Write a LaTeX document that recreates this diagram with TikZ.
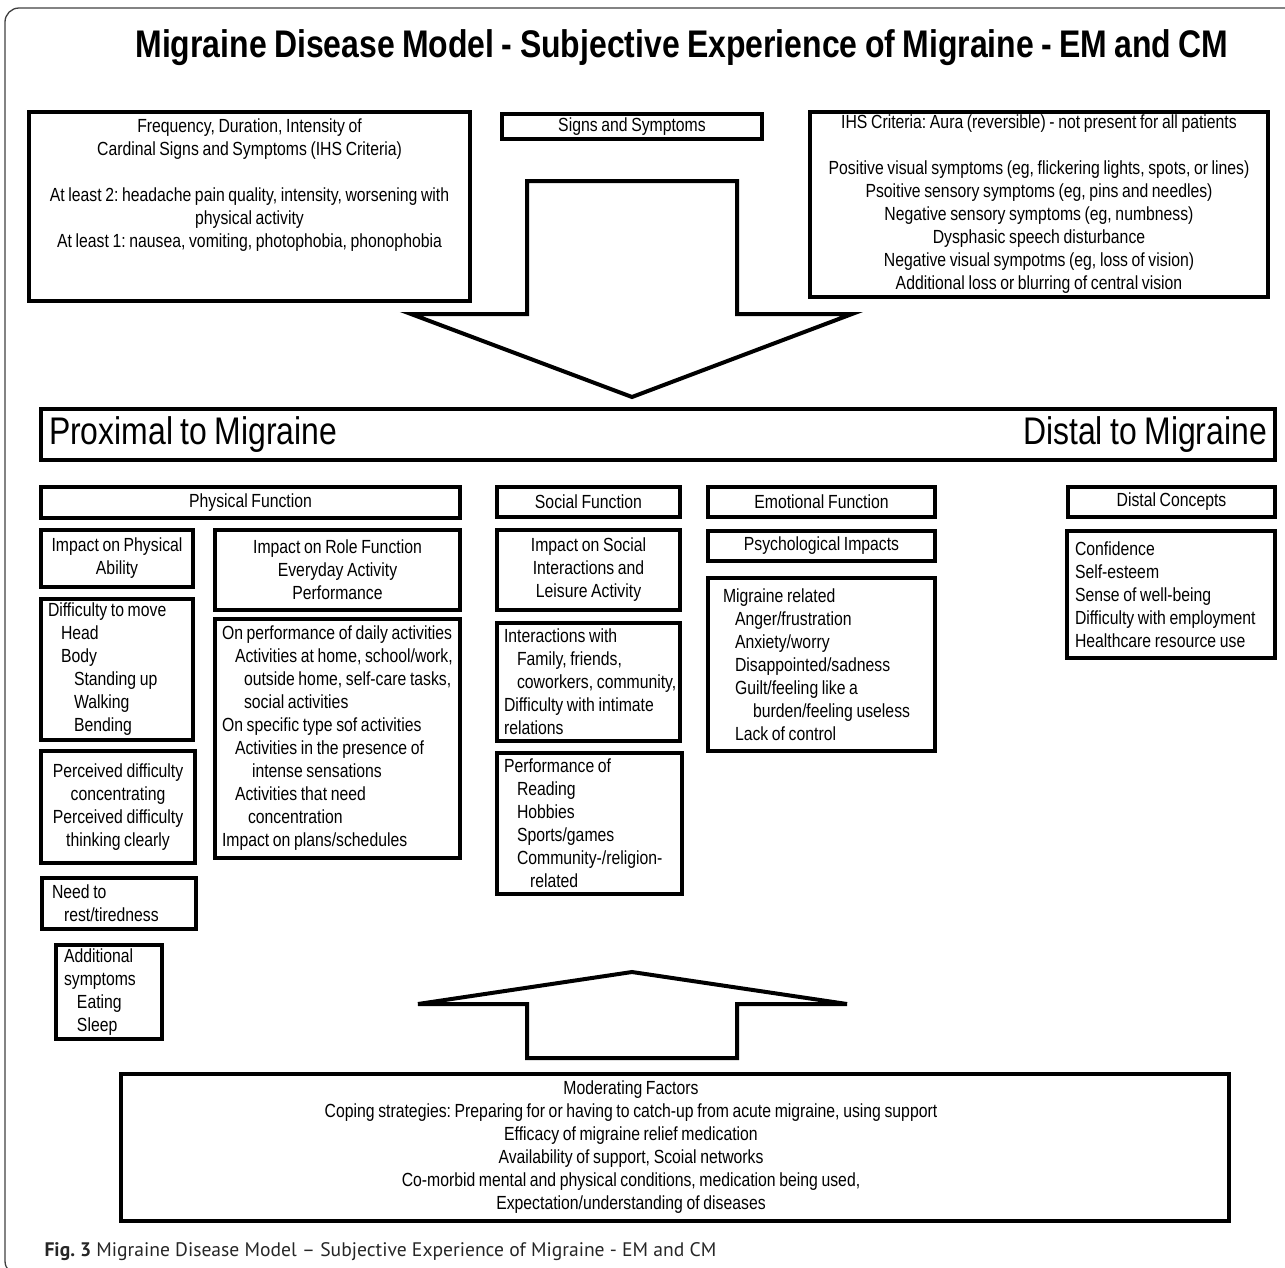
\documentclass[tikz,border=0pt]{standalone}
\usepackage{fontspec}
\setmainfont{Liberation Sans}[FakeStretch=0.83, WordSpace=0.83]
\newfontfamily\capfont{PT Sans}
\newcommand{\inA}{\hspace*{13pt}}
\newcommand{\inB}{\hspace*{26pt}}
\frenchspacing
\tikzset{
  box/.style 2 args={draw, line width=4.8pt, anchor=north west, inner xsep=5pt, inner ysep=0pt,
    outer sep=0pt, minimum width=#1, minimum height=#2, align=center,
    font=\fontsize{19}{23}\selectfont},
  lbox/.style 2 args={box={#1}{#2}, inner xsep=7pt, align=flush left, text width=#1-14},
  bigarrow/.style={draw, line width=4pt, line join=miter},
}
\begin{document}
\begin{tikzpicture}[x=1pt,y=-1pt]
\useasboundingbox (0,0) rectangle (1285,1267);
\draw[line width=1.3pt, black!75, rounded corners=14pt] (5,8) rectangle (1320,1275);

% title
\node[anchor=base, font=\fontsize{38.5}{42}\selectfont\bfseries] (title) at (682,57)
  {Migraine Disease Model - Subjective Experience of Migraine - EM and CM};

% signs and symptoms
\node[box={441}{189}] (freq) at (29,112) {Frequency, Duration, Intensity of\\
  Cardinal Signs and Symptoms (IHS Criteria)\\[23pt]
  At least 2: headache pain quality, intensity, worsening with\\
  physical activity\\
  At least 1: nausea, vomiting, photophobia, phonophobia\\ \mbox{}\\ \mbox{}};
\node[box={260}{25}] (signs) at (502,114) {Signs and Symptoms};
\node[box={458}{185}] (ihs) at (810,112) {IHS Criteria: Aura (reversible) - not present for all patients\\[23pt]
  Positive visual symptoms (eg, flickering lights, spots, or lines)\\
  Psoitive sensory symptoms (eg, pins and needles)\\
  Negative sensory symptoms (eg, numbness)\\
  Dysphasic speech disturbance\\
  Negative visual sympotms (eg, loss of vision)\\
  Additional loss or blurring of central vision};

% arrow down
\draw[bigarrow] (527,181) -- (737,181) -- (737,314) -- (852,314) -- (632,397)
  -- (411,314) -- (527,314) -- cycle;

\node[box={1234}{51}, align=flush left, text width=1218, inner xsep=8pt, font=\fontsize{38.5}{42}\selectfont]
  (prox) at (41,409) {Proximal to Migraine\hfill Distal to Migraine};

% physical function
\node[box={419}{31}] (physfn) at (41,487) {Physical Function};
\node[box={152}{57}] (physab) at (41,530) {Impact on Physical\\Ability};
\node[lbox={152}{141}] (move) at (41,599) {Difficulty to move\\ \inA Head\\ \inA Body\\
  \inB Standing up\\ \inB Walking\\ \inB Bending};
\node[box={154}{112}] (percv) at (41,751) {Perceived difficulty\\concentrating\\
  Perceived difficulty\\thinking clearly};
\node[lbox={154}{51}] (rest) at (42,878) {\hspace*{3pt}Need to\\ \hspace*{15pt}rest/tiredness};
\node[lbox={106}{94}] (addsym) at (56,945) {\hspace*{1pt}Additional\\ \hspace*{1pt}symptoms\\
  \hspace*{14pt}Eating\\ \hspace*{14pt}Sleep};
\node[box={245}{80}] (rolefn) at (215,530) {Impact on Role Function\\Everyday Activity\\Performance};
\node[lbox={245}{239}, inner xsep=5pt] (daily) at (215,619) {\mbox{On performance of daily activities}\\
  \inA \mbox{Activities at home, school/work,}\\
  \hspace*{22pt}\mbox{outside home, self-care tasks,}\\
  \hspace*{22pt}social activities\\
  On specific type sof activities\\
  \inA Activities in the presence of\\
  \hspace*{30pt}intense sensations\\
  \inA Activities that need\\
  \hspace*{26pt}concentration\\
  Impact on plans/schedules};

% social function
\node[box={183}{30}] (socfn) at (497,487) {Social Function};
\node[box={183}{80}] (socimp) at (497,530) {Impact on Social\\Interactions and\\Leisure Activity};
\node[lbox={183}{118}] (inter) at (497,623) {Interactions with\\ \inA Family, friends,\\
  \inA \mbox{coworkers, community,}\\ Difficulty with intimate\\ relations};
\node[lbox={185}{141}] (perf) at (497,753) {Performance of\\ \inA Reading\\ \inA Hobbies\\
  \inA Sports/games\\ \inA Community-/religion-\\ \inB related};

% emotional function
\node[box={227}{30}] (emofn) at (708,487) {Emotional Function};
\node[box={227}{30}] (psych) at (708,531) {Psychological Impacts};
\node[lbox={227}{173}] (migrel) at (708,578) {\hspace*{8pt}Migraine related\\
  \hspace*{20pt}Anger/frustration\\ \hspace*{20pt}Anxiety/worry\\
  \hspace*{20pt}Disappointed/sadness\\ \hspace*{20pt}Guilt/feeling like a\\
  \hspace*{38pt}burden/feeling useless\\ \hspace*{20pt}Lack of control};

% distal concepts
\node[box={207}{30}] (distfn) at (1068,487) {Distal Concepts};
\node[lbox={208}{127}] (distal) at (1067,531) {\hspace*{1pt}Confidence\\ \hspace*{1pt}Self-esteem\\
  \hspace*{1pt}Sense of well-being\\ \hspace*{1pt}Difficulty with employment\\
  \hspace*{1pt}Healthcare resource use};

% arrow up
\draw[bigarrow] (632,972) -- (847,1004) -- (737,1004) -- (737,1058) -- (527,1058)
  -- (527,1004) -- (418,1004) -- cycle;

\node[box={1108}{147}] (moder) at (121,1074) {};
\node[align=center, font=\fontsize{19}{23}\selectfont] (modtext) at ([xshift=-44pt]moder.center)
  {Moderating Factors\\
  Coping strategies: Preparing for or having to catch-up from acute migraine, using support\\
  Efficacy of migraine relief medication\\
  Availability of support, Scoial networks\\
  Co-morbid mental and physical conditions, medication being used,\\
  Expectation/understanding of diseases};

% caption
\node[anchor=base west, text=black!85, font=\capfont\fontsize{19.6}{22}\selectfont] (caption) at (41,1256)
  {\textbf{Fig. 3} Migraine Disease Model – Subjective Experience of Migraine - EM and CM};
\end{tikzpicture}
\end{document}
